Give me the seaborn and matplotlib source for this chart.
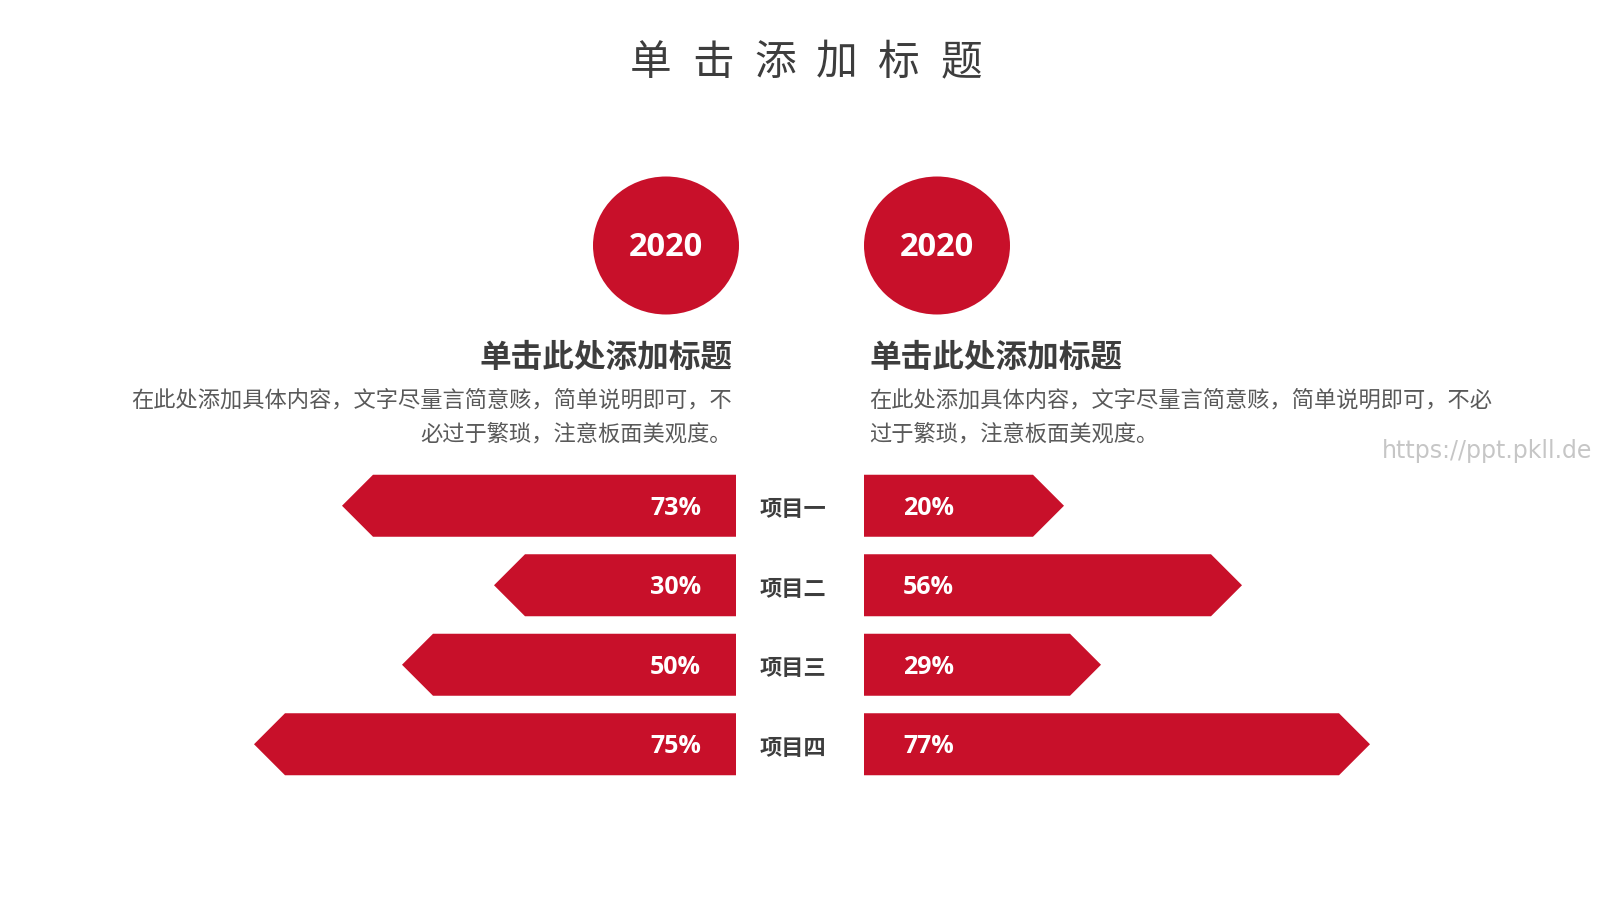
import matplotlib
matplotlib.use("Agg")
import matplotlib.pyplot as plt
from matplotlib.patches import Ellipse, Polygon
import pandas as pd
import seaborn as sns

# -----------------------------------------------------------------------------
# Datos
# -----------------------------------------------------------------------------
title = "单击添加标题"
years = ["2020", "2020"]
subtitles = ["单击此处添加标题", "单击此处添加标题"]
left_lines = ["在此处添加具体内容，文字尽量言简意赅，简单说明即可，不",
              "必过于繁琐，注意板面美观度。"]
right_lines = ["在此处添加具体内容，文字尽量言简意赅，简单说明即可，不必",
               "过于繁琐，注意板面美观度。"]
items = ["项目一", "项目二", "项目三", "项目四"]
left_pct = [73, 30, 50, 75]
right_pct = [20, 56, 29, 77]
# longitud dibujada de cada flecha (escala 0-100)
left_len = [78.8, 48.4, 66.8, 96.4]
right_len = [40.0, 75.6, 47.4, 101.2]
watermark = "https://ppt.pkll.de"

RED = "#C8102A"
DARK = "#3d3d3d"
GRAY = "#595959"
CJK = ["Noto Sans CJK SC", "DejaVu Sans"]
NUM = ["Open Sans", "DejaVu Sans"]

sns.set_theme(style="white")
plt.rcParams["font.family"] = CJK

W, H = 1600, 900
fig = plt.figure(figsize=(16, 9), dpi=100)
fig.patch.set_facecolor("white")

# capa de fondo en pixeles
bg = fig.add_axes([0, 0, 1, 1])
bg.set_xlim(0, W)
bg.set_ylim(H, 0)
bg.axis("off")

# titulo con espaciado
for k, ch in enumerate(title):
    bg.text(806 + (k - (len(title) - 1) / 2) * 62, 63, ch, fontsize=30,
            color=DARK, ha="center", va="center")

# circulos con el año
for cx, yr in zip([666, 937], years):
    bg.add_patch(Ellipse((cx, 245.5), 146, 138, color=RED, lw=0))
    bg.text(cx, 248, yr, fontsize=23.5, fontweight="bold", color="white",
            family=NUM, ha="center", va="center")

# subtitulos y textos
bg.text(732, 358, subtitles[0], fontsize=22.8, fontweight="heavy", color=DARK,
        ha="right", va="center")
bg.text(869, 358, subtitles[1], fontsize=22.8, fontweight="heavy", color=DARK,
        ha="left", va="center")
for i, (l, r) in enumerate(zip(left_lines, right_lines)):
    y = 400 + i * 34
    bg.text(732, y, l, fontsize=16, color=GRAY, ha="right", va="center")
    bg.text(869, y, r, fontsize=16, color=GRAY, ha="left", va="center")

bg.text(1592, 451, watermark, fontsize=17, color="#c6c6c6",
        family=["DejaVu Sans"], ha="right", va="center")

# -----------------------------------------------------------------------------
# Barras en flecha
# -----------------------------------------------------------------------------
unit_px = 5.0          # pixeles por unidad de longitud
span = 110
row_px = 79.5
top_px = 466
ax_h = row_px * len(items)
bar_w = 0.78


def arrow_bars(ax, lengths, pct, left):
    df = pd.DataFrame({"item": items, "len": lengths})
    sns.barplot(data=df, y="item", x="len", orient="h", color=RED,
                saturation=1, width=bar_w, ax=ax)
    ax.set_xlim((span, 0) if left else (0, span))
    ax.set_ylim(len(items) - 0.5, -0.5)
    ax.axis("off")
    tip = (bar_w * row_px / 2) / unit_px
    for p in list(ax.patches):
        x0, y0, w, h = p.get_x(), p.get_y(), p.get_width(), p.get_height()
        p.set_visible(False)
        ax.add_patch(Polygon([(x0, y0), (w - tip, y0), (w, y0 + h / 2),
                              (w - tip, y0 + h), (x0, y0 + h)],
                             closed=True, color=RED, lw=0))
    for i, v in enumerate(pct):
        ax.text(7.0 if left else 7.8, i + 0.03, f"{v}%", fontsize=18,
                fontweight="bold", color="white", family=NUM,
                ha="right" if left else "left", va="center")


ax_r = fig.add_axes([864 / W, 1 - (top_px + ax_h) / H, span * unit_px / W, ax_h / H])
ax_l = fig.add_axes([(736 - span * unit_px) / W, 1 - (top_px + ax_h) / H,
                     span * unit_px / W, ax_h / H])
arrow_bars(ax_l, left_len, left_pct, left=True)
arrow_bars(ax_r, right_len, right_pct, left=False)

for i, it in enumerate(items):
    ax_r.text(-(864 - 793) / unit_px, i + 0.05, it, fontsize=16, fontweight="bold",
              color=DARK, ha="center", va="center")

fig.savefig("out.png", dpi=100, facecolor="white")
